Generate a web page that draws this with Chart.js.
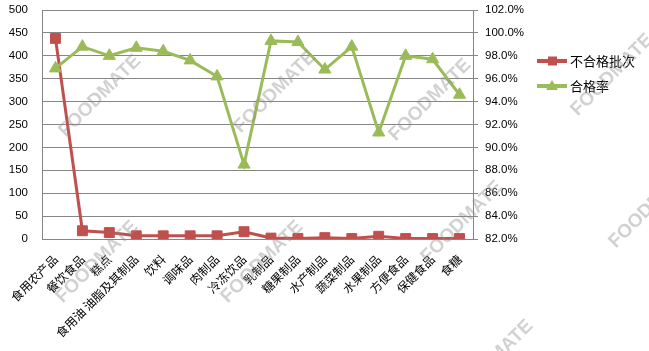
<!DOCTYPE html>
<html>
<head>
<meta charset="utf-8">
<script src="https://cdn.jsdelivr.net/npm/chart.js@4.4.1/dist/chart.umd.min.js"></script>
<style>
  html, body { margin: 0; padding: 0; background: #fff; }
  #wrap { width: 649px; height: 351px; position: relative; }
</style>
</head>
<body>
<div id="wrap"><canvas id="chart" width="649" height="351"></canvas></div>
<script>
// categories and series
const categories = ["食用农产品", "餐饮食品", "糕点", "食用油 油脂及其制品", "饮料", "调味品", "肉制品", "冷冻饮品", "乳制品", "糖果制品", "水产制品", "蔬菜制品", "水果制品", "方便食品", "保健食品", "食糖"];
const failedBatches = [438, 18, 14, 7, 7, 7, 7, 16, 2, 1, 3, 1, 6, 1, 1, 1];
const passRate = [96.9, 98.8, 98.0, 98.7, 98.4, 97.6, 96.2, 88.5, 99.3, 99.2, 96.8, 98.8, 91.3, 98.0, 97.7, 94.6];
const seriesNames = ["不合格批次", "合格率"];

const RED = "#C0504D";
const GREEN = "#9BBB59";
const GRID = "#868686";

// watermark centres
const marks = [[100, 96], [275, 92], [430, 100], [612, 75], [97, 262], [262, 262], [462, 222], [650, 207], [492, 361]];

const overlay = {
  id: "overlay",
  afterDraw(chart) {
    const ctx = chart.ctx;
    // legend
    const items = [
      { name: seriesNames[0], color: RED, shape: "rect", y: 61 },
      { name: seriesNames[1], color: GREEN, shape: "triangle", y: 86 },
    ];
    ctx.save();
    items.forEach((it) => {
      ctx.strokeStyle = it.color;
      ctx.lineWidth = 4;
      ctx.beginPath();
      ctx.moveTo(537, it.y);
      ctx.lineTo(567, it.y);
      ctx.stroke();
      ctx.fillStyle = it.color;
      ctx.beginPath();
      if (it.shape === "rect") {
        ctx.rect(548, it.y - 4.5, 9, 9);
      } else {
        ctx.moveTo(552, it.y - 6);
        ctx.lineTo(558, it.y + 4);
        ctx.lineTo(546, it.y + 4);
        ctx.closePath();
      }
      ctx.fill();
      ctx.fillStyle = "#000";
      ctx.font = '13px "Noto Sans CJK SC"';
      ctx.textBaseline = "middle";
      ctx.textAlign = "left";
      ctx.fillText(it.name, 570, it.y);
    });
    // watermarks
    ctx.font = 'bold 19px "Liberation Sans"';
    ctx.fillStyle = "rgba(140,140,140,0.4)";
    ctx.textAlign = "center";
    ctx.textBaseline = "middle";
    marks.forEach(([x, y]) => {
      ctx.save();
      ctx.translate(x, y);
      ctx.rotate(-Math.PI / 4);
      ctx.fillText("FOODMATE", 0, 0);
      ctx.restore();
    });
    ctx.restore();
  },
};

function noPad(scale) {
  scale.paddingTop = 0;
  scale.paddingBottom = 0;
  scale.paddingLeft = 0;
  scale.paddingRight = 0;
}

new Chart(document.getElementById("chart"), {
  type: "line",
  data: {
    labels: categories,
    datasets: [
      {
        label: seriesNames[0],
        data: failedBatches,
        yAxisID: "y",
        borderColor: RED,
        backgroundColor: RED,
        borderWidth: 3,
        pointStyle: "rect",
        pointRadius: 7,
        pointBorderWidth: 1,
        tension: 0,
        order: 2,
      },
      {
        label: seriesNames[1],
        data: passRate,
        yAxisID: "y1",
        borderColor: GREEN,
        backgroundColor: GREEN,
        borderWidth: 3,
        pointStyle: "triangle",
        pointRadius: 7,
        pointBorderWidth: 1,
        tension: 0,
        order: 1,
      },
    ],
  },
  options: {
    responsive: false,
    animation: false,
    layout: { padding: { top: 10, left: 0, right: 0, bottom: 0 } },
    plugins: { legend: { display: false }, tooltip: { enabled: false } },
    scales: {
      x: {
        offset: true,
        grid: { display: false },
        border: { display: true, color: GRID, width: 1 },
        ticks: {
          color: "#000",
          font: { family: '"Noto Sans CJK SC"', size: 12 },
          maxRotation: 45,
          minRotation: 45,
          autoSkip: false,
          padding: 5,
        },
        afterFit(scale) { scale.height = 112; noPad(scale); },
      },
      y: {
        position: "left",
        min: 0,
        max: 500,
        ticks: {
          stepSize: 50,
          color: "#000",
          font: { family: '"Liberation Sans"', size: 11.5 },
          padding: 14,
        },
        grid: { color: GRID, drawTicks: false, lineWidth: 1 },
        border: { display: true, color: GRID, width: 1 },
        afterFit(scale) { scale.width = 42; noPad(scale); },
      },
      y1: {
        position: "right",
        min: 82,
        max: 102,
        ticks: {
          stepSize: 2,
          color: "#000",
          font: { family: '"Liberation Sans"', size: 11.5 },
          padding: 7,
          callback: (v) => v.toFixed(1) + "%",
        },
        grid: { drawOnChartArea: false, drawTicks: true, tickLength: 5, color: GRID },
        border: { display: true, color: GRID, width: 1 },
        afterFit(scale) { scale.width = 176; noPad(scale); },
      },
    },
  },
  plugins: [overlay],
});
</script>
</body>
</html>
